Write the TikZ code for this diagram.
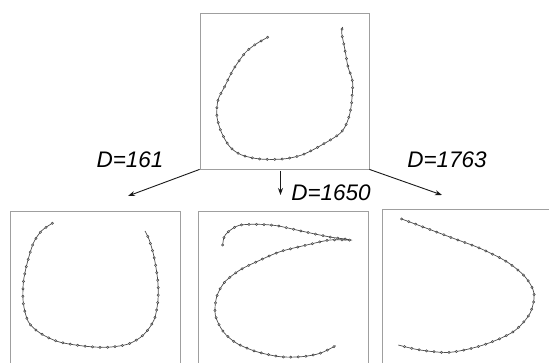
\documentclass[tikz,border=0pt]{standalone}
\usepackage{fontspec}
\setmainfont{Liberation Sans}
\usetikzlibrary{arrows.meta}
\tikzset{
  frame/.style={draw=gray!75, line width=0.8pt, inner sep=0pt},
  dist/.style={font=\fontsize{22.5}{26}\selectfont\itshape, text=black},
  link/.style={draw=black!90, line width=0.9pt, -{Stealth[length=7pt,width=5pt]}},
  contour/.style={draw=black!70, line width=0.7pt},
  dotsout/.style={draw=black!75, line width=3pt, line cap=round, dash pattern=on 0pt off 7.5pt},
  dotsin/.style={draw=gray!55, line width=1.3pt, line cap=round, dash pattern=on 0pt off 7.5pt}
}
\newcommand{\shapeline}[1]{%
  \draw[contour] plot[smooth] coordinates {#1};
  \draw[dotsout] plot[smooth] coordinates {#1};
  \draw[dotsin] plot[smooth] coordinates {#1};
}
\begin{document}
\begin{tikzpicture}[x=1pt, y=-1pt]
    \useasboundingbox (0,0) rectangle (549,363);
    \clip (0,0) rectangle (549,363);
    \fill[white] (0,0) rectangle (549,363);
    % shape boxes
    \node[frame, minimum width=169pt, minimum height=156pt] (orig) at (284.5,91) {};
    \node[frame, minimum width=170pt, minimum height=170pt] (left) at (95,296) {};
    \node[frame, minimum width=170pt, minimum height=170pt] (mid) at (283,296) {};
    \node[frame, minimum width=190pt, minimum height=170pt] (right) at (477,294) {};
    % arrow ends
    \coordinate (lend) at (128,196);
    \coordinate (mstart) at (280.5,171);
    \coordinate (mend) at (280.5,195);
    \coordinate (rend) at (442,195);
    \draw[link] (orig.south west) -- (lend);
    \draw[link] (mstart) -- (mend);
    \draw[link] (orig.south east) -- (rend);
    % distances
    \node[dist] (dl) at (130,160) {D=161};
    \node[dist] (dm) at (331,193) {D=1650};
    \node[dist] (dr) at (447,160) {D=1763};
    % original contour
    \shapeline{(267.7,37.3) (256,44) (245,53) (233,70)
      (225,86) (218,100) (217,117) (221.7,133) (230,147) (241.7,155) (260,159)
      (283,159) (301.7,155) (321.7,145) (341.7,131.7) (350,113) (352.7,83)
      (348,67) (345,50) (341.7,33) (342.7,27)}
    % D=161
    \shapeline{(52.3,223.3) (41.7,230.7) (33.3,243.3)
      (26.7,265) (23.3,283) (23.3,303) (28.3,321.7) (40,333) (58.3,341.7)
      (83.3,346) (106.7,347.3) (128.3,344) (143.3,335) (154,320) (158,300)
      (157.7,280) (154,256.7) (149.3,240) (145,231)}
    % D=1650
    \shapeline{(222.7,245) (224,237.3) (228.3,231.7)
      (239.3,225.3) (258.3,224.3) (276.7,225.7) (296.7,230) (315,234)
      (331.7,237.3) (351,240) (330,240) (306.7,245) (280,251.7) (256.7,261.7)
      (240,270) (225,281.7) (216.7,296.7) (215.3,315) (223.3,331.7) (236.7,343.3)
      (256.7,351.7) (280,356.7) (301.7,356.7) (320,353.3) (335.7,345.7)}
    % D=1763
    \shapeline{(401.7,219) (426.7,228.3) (453.3,238.3)
      (480,248.3) (506.7,261.7) (525,276.7) (534,293.3) (530,313.3) (513.3,331.7)
      (483.3,345) (450,352.3) (420,350) (398.3,345)}
  \end{tikzpicture}
\end{document}
